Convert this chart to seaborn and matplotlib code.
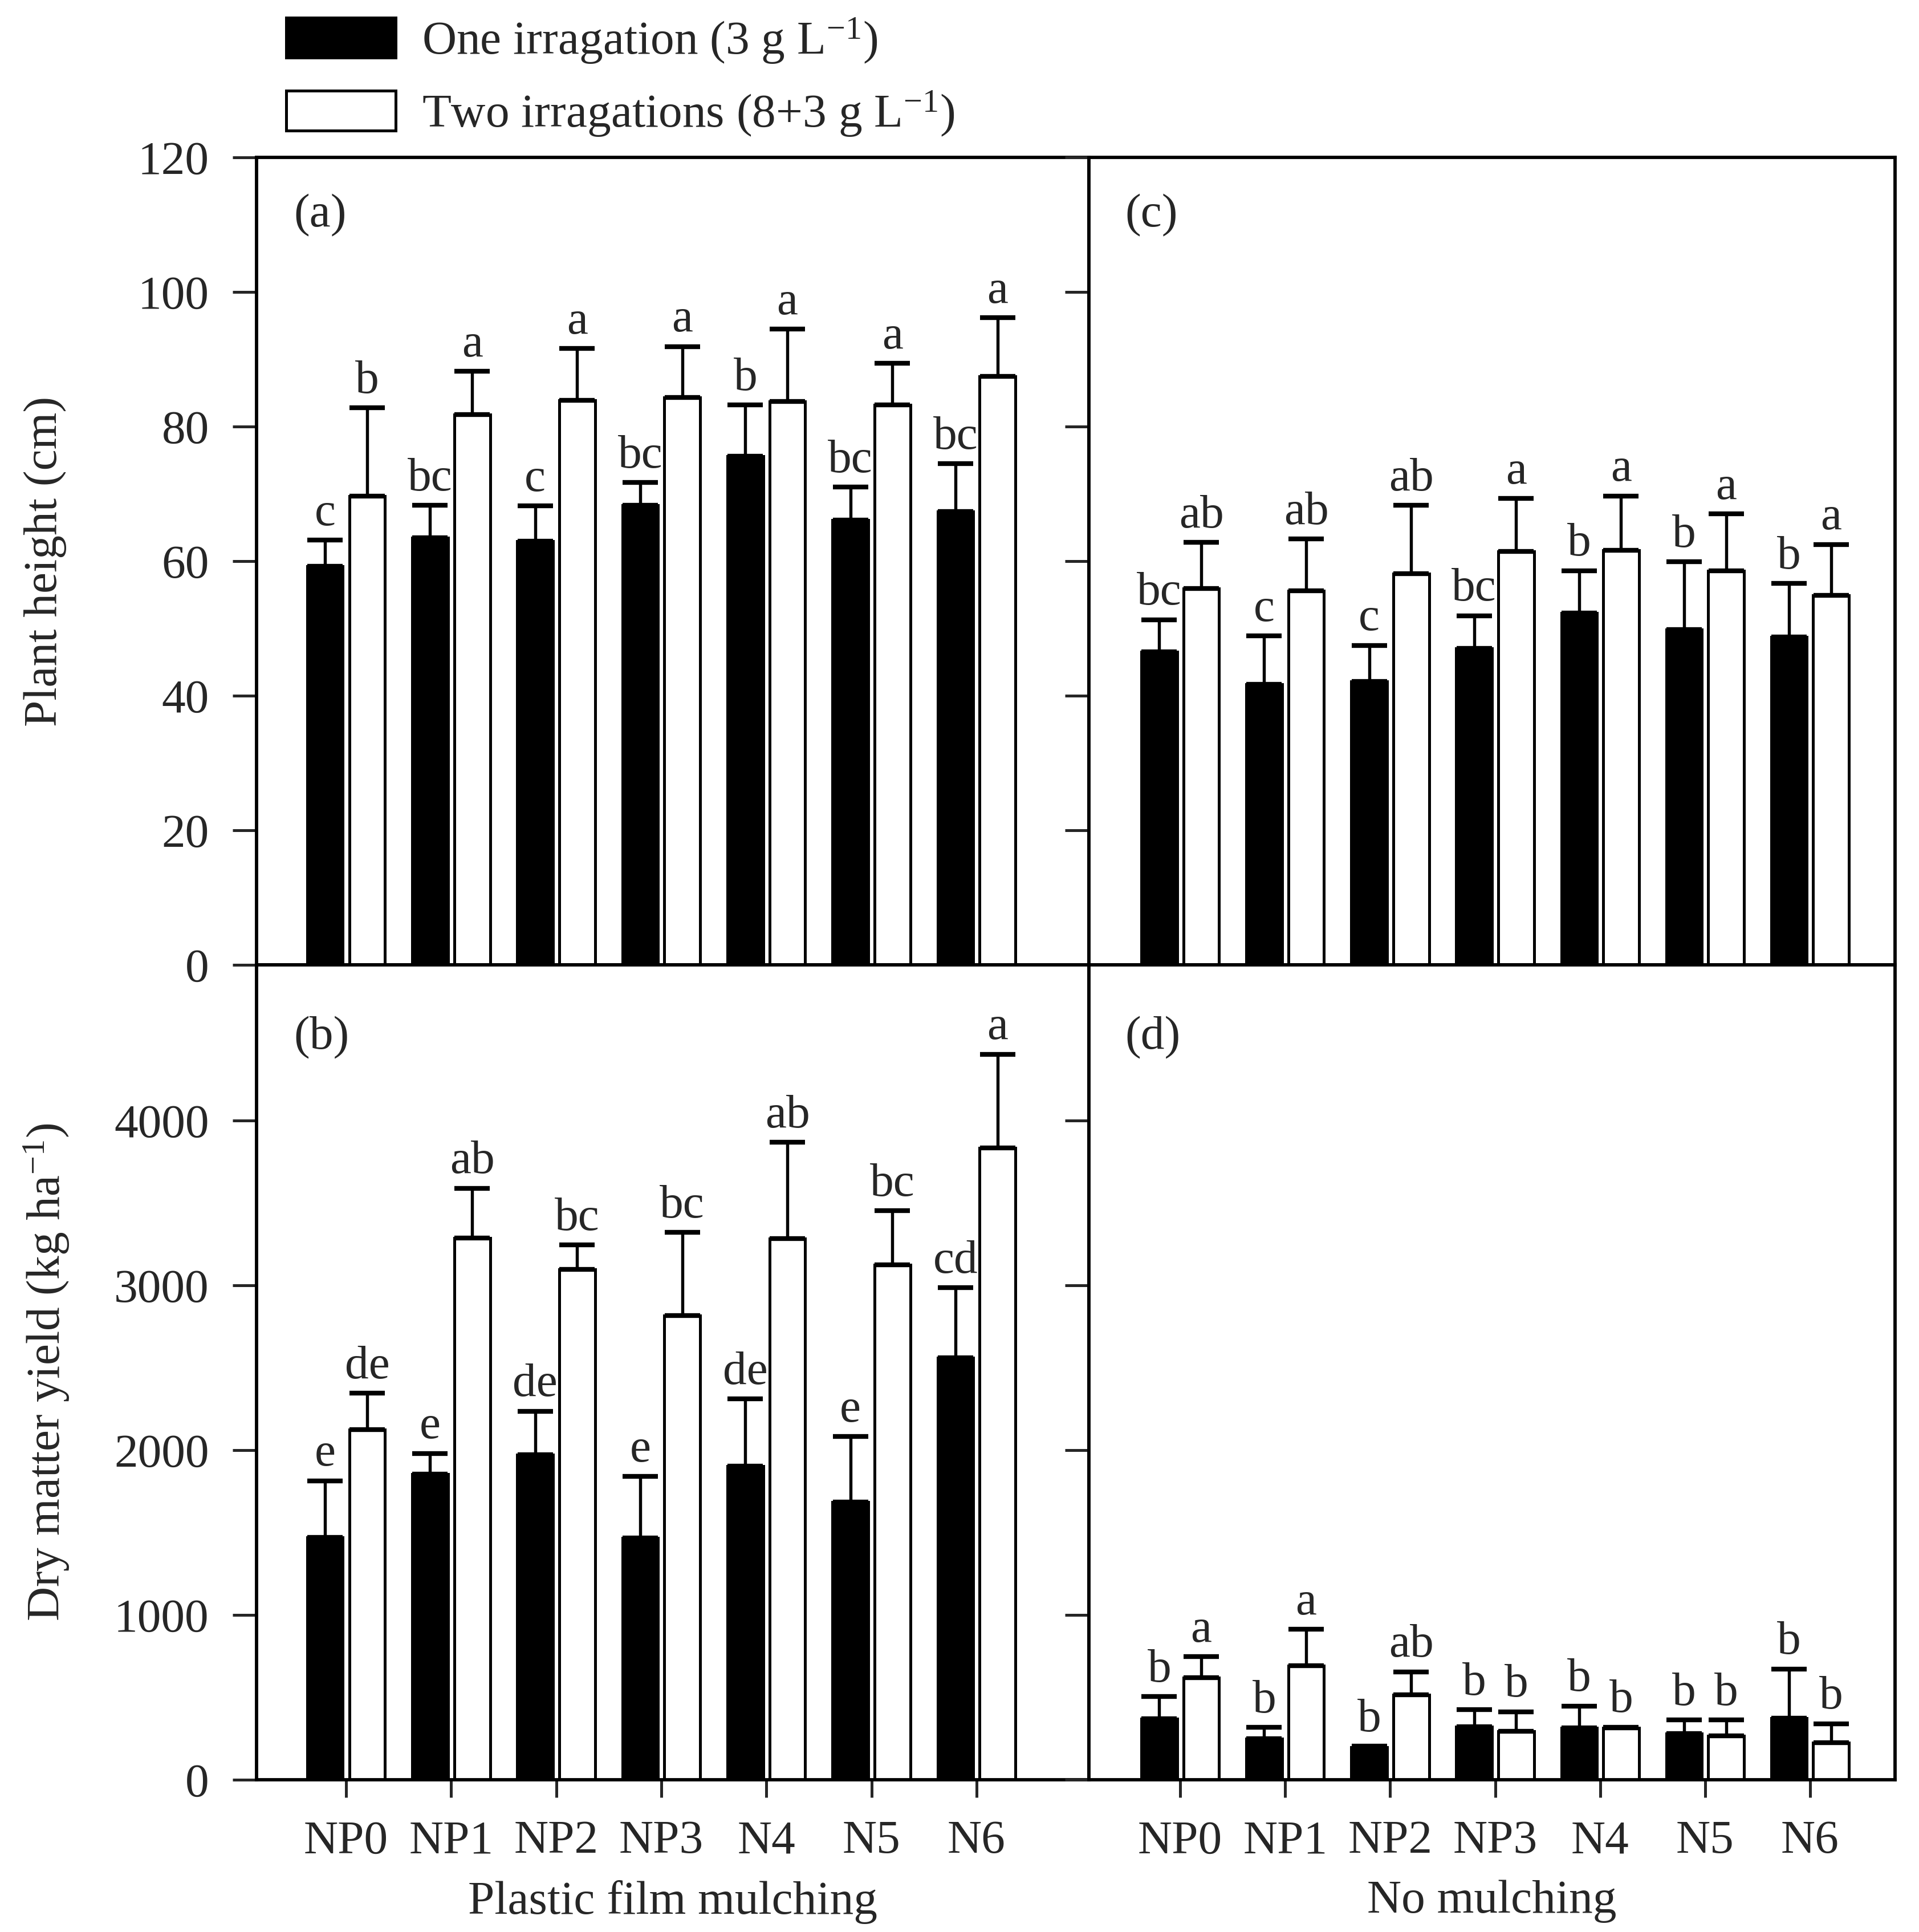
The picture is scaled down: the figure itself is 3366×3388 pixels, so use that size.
import numpy as np
import pandas as pd
import matplotlib
matplotlib.use("Agg")
import matplotlib.pyplot as plt
import seaborn as sns
from matplotlib.patches import Patch

### data
treatments = ['NP0', 'NP1', 'NP2', 'NP3', 'N4', 'N5', 'N6']
irrigations = ['One', 'Two']

# (a) plant height, plastic film mulching
a_one = [59.2, 63.5, 63.0, 68.3, 75.6, 66.1, 67.4]
a_one_sd = [3.9, 4.8, 5.2, 3.4, 7.6, 4.9, 7.1]
a_two = [69.7, 81.8, 83.9, 84.3, 83.7, 83.2, 87.5]
a_two_sd = [13.1, 6.4, 7.7, 7.6, 10.8, 6.2, 8.7]
a_one_let = ['c', 'bc', 'c', 'bc', 'b', 'bc', 'bc']
a_two_let = ['b', 'a', 'a', 'a', 'a', 'a', 'a']

# (c) plant height, no mulching
c_one = [46.5, 41.7, 42.1, 47.0, 52.3, 49.8, 48.7]
c_one_sd = [4.8, 7.2, 5.4, 4.9, 6.3, 10.1, 8.0]
c_two = [55.9, 55.6, 58.1, 61.4, 61.6, 58.6, 54.9]
c_two_sd = [6.9, 7.7, 10.2, 7.9, 8.1, 8.4, 7.6]
c_one_let = ['bc', 'c', 'c', 'bc', 'b', 'b', 'b']
c_two_let = ['ab', 'ab', 'ab', 'a', 'a', 'a', 'a']

# (b) dry matter yield, plastic film mulching
b_one = [1469, 1856, 1971, 1466, 1904, 1686, 2560]
b_one_sd = [345, 125, 266, 374, 406, 397, 426]
b_two = [2125, 3286, 3098, 2816, 3283, 3126, 3834]
b_two_sd = [221, 304, 147, 506, 586, 327, 569]
b_one_let = ['e', 'e', 'de', 'e', 'de', 'e', 'cd']
b_two_let = ['de', 'ab', 'bc', 'bc', 'ab', 'bc', 'a']

# (d) dry matter yield, no mulching
d_one = [370, 248, 198, 321, 314, 279, 374]
d_one_sd = [135, 69, 5, 104, 134, 84, 299]
d_two = [620, 693, 514, 293, 314, 267, 225]
d_two_sd = [127, 220, 141, 120, 5, 96, 115]
d_one_let = ['b', 'b', 'b', 'b', 'b', 'b', 'b']
d_two_let = ['a', 'a', 'ab', 'b', 'b', 'b', 'b']

legend_labels = ['One irragation (3 g L$^{-1}$)', 'Two irragations (8+3 g L$^{-1}$)']

sns.set_style("ticks")
plt.rcParams['font.family'] = ['Liberation Serif', 'DejaVu Serif']
plt.rcParams['mathtext.fontset'] = 'custom'
plt.rcParams['mathtext.rm'] = 'Liberation Serif'
plt.rcParams['mathtext.it'] = 'Liberation Serif:italic'
plt.rcParams['axes.linewidth'] = 1.4
FS = 20

W, H = 3366, 3388
fig = plt.figure(figsize=(W / 300, H / 300), dpi=300)
L, M, R = 450 / W, 1910 / W, 3324 / W
T, Mid, B = 1 - 276 / H, 1 - 1692 / H, 1 - 3121 / H

ax_a = fig.add_axes([L, Mid, M - L, T - Mid])
ax_c = fig.add_axes([M, Mid, R - M, T - Mid])
ax_b = fig.add_axes([L, B, M - L, Mid - B])
ax_d = fig.add_axes([M, B, R - M, Mid - B])


def make_df(one, two):
    return pd.DataFrame({'trt': treatments * 2,
                         'irr': ['One'] * 7 + ['Two'] * 7,
                         'val': list(one) + list(two)})


def draw_panel(ax, one, one_sd, two, two_sd, one_let, two_let, tag):
    df = make_df(one, two)
    sns.barplot(data=df, x='trt', y='val', hue='irr', order=treatments,
                hue_order=irrigations, palette=['black', 'white'],
                edgecolor='black', linewidth=1.2, width=0.8, gap=0.15,
                saturation=1, errorbar=None, legend=False, ax=ax)
    xs = np.arange(len(treatments))
    for off, vals, sd, lets in [(-0.2, one, one_sd, one_let), (0.2, two, two_sd, two_let)]:
        vals = np.array(vals, dtype=float)
        sd = np.array(sd, dtype=float)
        ax.errorbar(xs + off, vals, yerr=[np.zeros_like(sd), sd], fmt='none',
                    ecolor='black', elinewidth=1.3, capsize=7.5, capthick=2.0)
        for x, v, s, lab in zip(xs + off, vals, sd, lets):
            ax.annotate(lab, xy=(x, v + s), xytext=(0, 2), textcoords='offset points',
                        ha='center', va='bottom', fontsize=FS)
    ax.text(0.045, 0.928 if tag in 'ac' else 0.911, '(' + tag + ')', transform=ax.transAxes,
            ha='left', va='center', fontsize=FS)
    ax.set_xlabel('')
    ax.set_ylabel('')


draw_panel(ax_a, a_one, a_one_sd, a_two, a_two_sd, a_one_let, a_two_let, 'a')
draw_panel(ax_c, c_one, c_one_sd, c_two, c_two_sd, c_one_let, c_two_let, 'c')
draw_panel(ax_b, b_one, b_one_sd, b_two, b_two_sd, b_one_let, b_two_let, 'b')
draw_panel(ax_d, d_one, d_one_sd, d_two, d_two_sd, d_one_let, d_two_let, 'd')

for ax in [ax_a, ax_b]:
    ax.set_xlim(-0.852, 7.07)
for ax in [ax_c, ax_d]:
    ax.set_xlim(-0.87, 6.81)
for ax in [ax_a, ax_c]:
    ax.set_ylim(0, 120)
    ax.set_yticks(np.arange(0, 121, 20))
for ax in [ax_b, ax_d]:
    ax.set_ylim(0, 4945)
    ax.set_yticks(np.arange(0, 4001, 1000))

for ax in [ax_a, ax_b, ax_c, ax_d]:
    for sp in ax.spines.values():
        sp.set_visible(True)
        sp.set_linewidth(1.4)
        sp.set_color('black')
    ax.tick_params(axis='x', direction='out', length=7.5, width=1.2, pad=9.5,
                   labelsize=FS, top=False)
    ax.tick_params(axis='y', direction='out', length=10, width=1.2, pad=10,
                   labelsize=FS, right=False)

for ax in [ax_a, ax_c]:
    ax.tick_params(axis='x', labelbottom=False)
for ax in [ax_c, ax_d]:
    ax.tick_params(axis='y', labelleft=False)

ax_b.set_xlabel('Plastic film mulching', fontsize=FS, labelpad=7)
ax_d.set_xlabel('No mulching', fontsize=FS, labelpad=7)

fig.text(79 / W, (T + Mid) / 2, 'Plant height (cm)', rotation=90,
         ha='center', va='center', fontsize=FS)
fig.text(82 / W, (Mid + B) / 2, 'Dry matter yield (kg ha$^{-1}$)', rotation=90,
         ha='center', va='center', fontsize=FS)

handles = [Patch(facecolor='black', edgecolor='black', linewidth=1.2),
           Patch(facecolor='white', edgecolor='black', linewidth=1.2)]
fig.legend(handles, legend_labels, loc='upper left',
           bbox_to_anchor=(502 / W, 1 - 28 / H), frameon=False, borderpad=0,
           borderaxespad=0, handlelength=2.3, handleheight=0.91,
           handletextpad=0.56, labelspacing=0.5, fontsize=FS)

plt.savefig("out.png", dpi=300)
